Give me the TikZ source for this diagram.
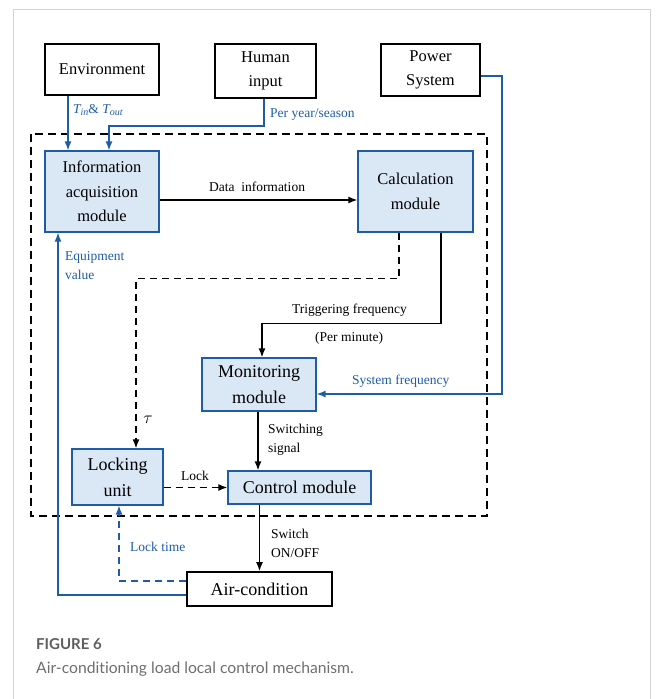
\documentclass[tikz,border=0pt]{standalone}
\usepackage{fontspec}
\setmainfont{Liberation Serif}
\newfontfamily\capfont[Ligatures={NoCommon,NoRare}]{Lato}
\usetikzlibrary{arrows.meta}

\definecolor{boxblue}{HTML}{DAE8F6}
\definecolor{lineblue}{HTML}{1F5CA8}
\definecolor{capgrey}{HTML}{6E6E6E}

\newcommand{\subtxt}[1]{\raisebox{-0.35ex}{\fontsize{10}{10}\selectfont\itshape #1}}

\begin{document}
\begin{tikzpicture}[
x=1pt,y=-1pt,
outbox/.style={
draw,
line width=1.7pt,
align=center,
inner sep=0pt,
font=\fontsize{16.5}{23.5}\selectfont
},
modbox/.style={
draw=lineblue,
fill=boxblue,
line width=1.2pt,
align=center,
inner sep=0pt,
font=\fontsize{16.5}{24.5}\selectfont
},
lbl/.style={
inner sep=0pt,
align=left,
font=\fontsize{13.5}{19}\selectfont
},
bluelbl/.style={
lbl,
text=lineblue
},
flow/.style={
-{Latex[length=9pt,width=7pt]},
line width=1.5pt
},
blueflow/.style={
-{Latex[length=9pt,width=7pt]},
line width=1.4pt,
draw=lineblue
}
]

\useasboundingbox (0,0) rectangle (656,699);
\draw[gray!35, line width=0.8pt] (13,710) -- (13,9) -- (650,9) -- (650,710);

% outside
\node[outbox, minimum width=114pt, minimum height=51pt] (Env) at (102,69.5)
{Environment};

\node[outbox, minimum width=101pt, minimum height=54pt] (Hum) at (265.5,71)
{Human\\input};

\node[outbox, minimum width=99pt, minimum height=52pt] (Pow) at (430.5,70)
{Power\\System};

\node[outbox, minimum width=145pt, minimum height=34pt,
font=\fontsize{18}{21}\selectfont] (Air) at (259.5,589)
{Air-condition};

% controller
\draw[dashed, dash pattern=on 8pt off 5pt, line width=1.3pt]
(31,134) rectangle (487,516);

\node[modbox, minimum width=114pt, minimum height=81pt] (Info) at (102,191.5)
{Information\\acquisition\\module};

\node[modbox, minimum width=115pt, minimum height=81pt] (Calc) at (415.5,191.5)
{Calculation\\module};

\node[modbox, minimum width=114pt, minimum height=53pt,
font=\fontsize{18}{26.5}\selectfont] (Mon) at (259,384.5)
{Monitoring\\module};

\node[modbox, minimum width=91pt, minimum height=56pt,
font=\fontsize{18}{26}\selectfont] (Lock) at (117.5,477)
{Locking\\unit};

\node[modbox, minimum width=143pt, minimum height=33pt,
font=\fontsize{18}{21}\selectfont] (Ctrl) at (299.5,487.5)
{Control module};

% labels
\node[bluelbl, anchor=west] (Ltemp) at (73,110)
{{\itshape T}\subtxt{in}\& {\itshape T}\subtxt{out}};
\node[bluelbl, anchor=west] (Lyear) at (270,115) {Per year/season};
\node[lbl] (Ldata) at (257,187) {Data\ \ information};
\node[bluelbl, anchor=north west] (Lequip) at (65,251) {Equipment\\value};
\node[lbl, anchor=west] (Ltrig) at (292,310) {Triggering frequency};
\node[lbl, anchor=west] (Lmin) at (315,338) {(Per minute)};
\node[bluelbl, anchor=west] (Lsys) at (352,381) {System frequency};
\node[lbl, font=\fontsize{17}{19}\selectfont] (Ltau) at (148,420) {$\tau$};
\node[lbl, anchor=west] (Lsw) at (268,439.5) {Switching\\signal};
\node[lbl] (Llock) at (195,476) {Lock};
\node[lbl, anchor=west] (Lonoff) at (271,543.5) {Switch\\ON/OFF};
\node[bluelbl, anchor=west] (Ltime) at (130,547) {Lock time};

% connectors
\draw[blueflow] ([xshift=-34pt]Env.south) -- ([xshift=-34pt]Info.north);
\draw[blueflow] ([xshift=-1.5pt]Hum.south) -- ++(0,27) -| ([xshift=7pt]Info.north);
\draw[blueflow] ([yshift=-6pt]Pow.east) -- ++(21,0) |- ([yshift=-9.5pt]Mon.east);
\draw[flow] ([yshift=-8.5pt]Info.east) -- ([yshift=-8.5pt]Calc.west);
\draw[flow, dashed, dash pattern=on 7pt off 5pt]
([xshift=-16.5pt]Calc.south) -- ++(0,46) -| ([xshift=18.5pt]Lock.north);
\draw[flow] ([xshift=25.5pt]Calc.south) -- ++(0,91) -| ([xshift=3pt]Mon.north);
\draw[flow] ([xshift=-1pt]Mon.south) -- ([xshift=-1pt]Mon.south |- Ctrl.north);
\draw[flow, dashed, dash pattern=on 7pt off 5pt] (Lock.east |- Ctrl.west) -- (Ctrl.west);
\draw[flow] (Air.north |- Ctrl.south) -- (Air.north);
\draw[blueflow] ([yshift=-6pt]Air.west) -| ([xshift=-44pt]Info.south);
\draw[blueflow, dashed, dash pattern=on 7pt off 5pt]
([yshift=8pt]Air.west) -| ([xshift=1.5pt]Lock.south);

% caption
\node[anchor=west, inner sep=0pt, text=capgrey!85!black,
font=\capfont\bfseries\fontsize{15}{18}\selectfont] (Fig) at (36,644) {FIGURE 6};
\node[anchor=west, inner sep=0pt, text=capgrey,
font=\capfont\fontsize{15.7}{18}\selectfont] (Cap) at (36,669)
{Air-conditioning load local control mechanism.};

\end{tikzpicture}
\end{document}
